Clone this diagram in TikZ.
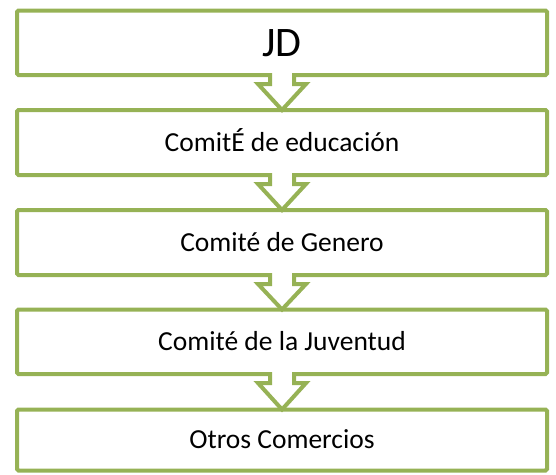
\documentclass[tikz,border=0pt]{standalone}
\usepackage{fontspec}
\setmainfont{Carlito}
\usepackage{tikz}
\usetikzlibrary{calc}
\definecolor{verdeoliva}{RGB}{150,178,85}

\begin{document}
\begin{tikzpicture}[x=1pt, y=-1pt,
    caja/.style={draw=verdeoliva, line width=4pt, rounded corners=1.5pt, minimum width=530pt, inner sep=0pt, outer sep=0pt, text height=17.7pt, text depth=0pt, font=\fontsize{27.5}{33}\selectfont},
    flecha/.style={draw=verdeoliva, line width=4pt, line join=miter}]
    \useasboundingbox (0,0) rectangle (556,474);
    \node[caja, minimum height=64.5pt, text height=27pt, font=\fontsize{42}{50}\selectfont] (jd) at (282,42.75) {JD};
    \node[caja, minimum height=65pt] (educacion) at (282,142.5) {ComitÉ de educación};
    \node[caja, minimum height=65pt] (genero) at (282,242.5) {Comité de Genero};
    \node[caja, minimum height=64.5pt] (juventud) at (282,341.75) {Comité de la Juventud};
    \node[caja, minimum height=61pt] (otros) at (282,440) {Otros Comercios};
    \foreach \a/\b in {jd/educacion, educacion/genero, genero/juventud, juventud/otros} {
        \fill[white] ([xshift=-12pt,yshift=2.5pt]\a.south) -- ++(0pt,-11.5pt) -- ++(-12pt,0pt) -- (\b.north) -- ([xshift=24pt,yshift=-9pt]\a.south) -- ++(-12pt,0pt) -- ++(0pt,11.5pt) -- cycle;
        \draw[flecha] ([xshift=-12pt,yshift=2pt]\a.south) -- ++(0pt,-11pt) -- ++(-12pt,0pt) -- (\b.north) -- ([xshift=24pt,yshift=-9pt]\a.south) -- ++(-12pt,0pt) -- ++(0pt,11pt);
    }
\end{tikzpicture}
\end{document}
